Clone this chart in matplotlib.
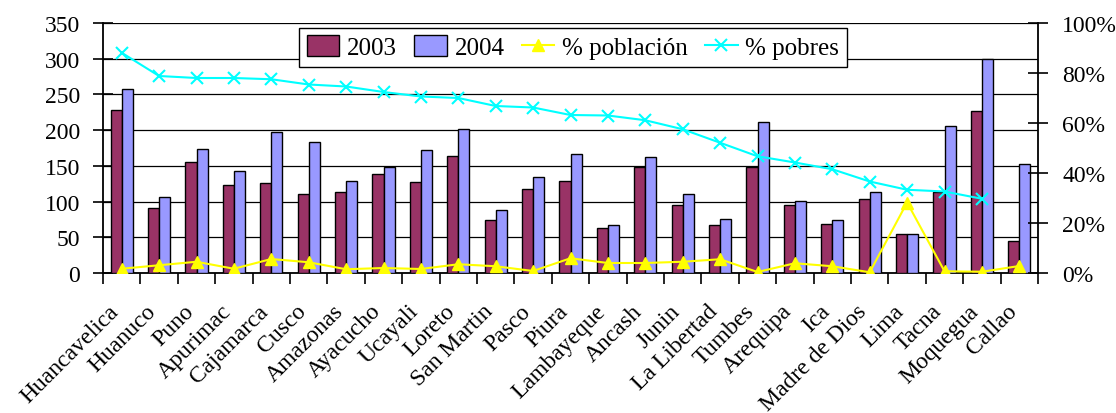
import numpy as np
import matplotlib
matplotlib.use("Agg")
import matplotlib.pyplot as plt
import matplotlib.transforms as mtransforms
from matplotlib.ticker import FuncFormatter, FixedLocator

plt.rcParams['font.family'] = ['Liberation Serif', 'DejaVu Serif']

departamentos = ["Huancavelica", "Huanuco", "Puno", "Apurimac", "Cajamarca", "Cusco",
                 "Amazonas", "Ayacucho", "Ucayali", "Loreto", "San Martin", "Pasco",
                 "Piura", "Lambayeque", "Ancash", "Junin", "La Libertad", "Tumbes",
                 "Arequipa", "Ica", "Madre de Dios", "Lima", "Tacna", "Moquegua", "Callao"]

v2003 = [228, 91, 155, 123, 126, 111, 114, 138, 127, 164, 74, 117, 129, 63, 149,
         95, 67, 148, 95, 68, 104, 55, 114, 227, 45]
v2004 = [257, 107, 174, 143, 198, 183, 129, 148, 172, 202, 88, 135, 166, 67, 162,
         110, 76, 212, 101, 74, 114, 55, 206, 299, 153]

# porcentaje de la población nacional
pct_poblacion = [1.7, 3.1, 4.5, 1.7, 5.6, 4.3, 1.5, 2.0, 1.6, 3.5, 2.7, 0.8, 5.9, 4.0,
                 4.0, 4.5, 5.5, 0.4, 3.9, 2.7, 0.3, 28.2, 0.7, 0.5, 2.8]
# porcentaje de pobres (Callao sin dato)
pct_pobres = [88.1, 78.8, 78.0, 78.0, 77.5, 75.4, 74.6, 72.4, 70.6, 70.0, 66.8, 66.2,
              63.2, 63.0, 61.1, 57.5, 52.1, 46.7, 44.2, 41.5, 36.6, 33.3, 32.6, 29.7, np.nan]

FS = 17
x = np.arange(len(departamentos))
w = 0.295

fig = plt.figure(figsize=(11.16, 4.14), dpi=100)
ax = fig.add_axes([103 / 1116, 140 / 414, 935 / 1116, 250 / 414])

b1 = ax.bar(x - w / 2, v2003, w, color='#993366', edgecolor='black', linewidth=1.0,
            label='2003', zorder=3)
b2 = ax.bar(x + w / 2, v2004, w, color='#9999FF', edgecolor='black', linewidth=1.0,
            label='2004', zorder=3)

ax.set_xlim(-0.5, len(departamentos) - 0.5)
ax.set_ylim(0, 350)
ax.set_yticks(np.arange(0, 351, 50))
ax.yaxis.grid(True, color='black', linewidth=0.9, zorder=0)
ax.set_axisbelow(True)
for s in ['top', 'right']:
    ax.spines[s].set_visible(False)
ax.spines['left'].set_linewidth(1.3)
ax.spines['bottom'].set_linewidth(1.3)
ax.tick_params(axis='y', direction='inout', length=15, width=1.2, pad=9, labelsize=FS)

ax.set_xticks(x)
ax.set_xticklabels(departamentos, rotation=45, ha='right', va='center',
                   rotation_mode='anchor', fontsize=17)
ax.tick_params(axis='x', which='major', length=0, pad=25)
# nombres un poco a la izquierda del centro de cada grupo
shift = mtransforms.ScaledTranslation(-6 / 100, 0, fig.dpi_scale_trans)
for lab in ax.get_xticklabels():
    lab.set_transform(lab.get_transform() + shift)
ax.xaxis.set_minor_locator(FixedLocator(np.arange(-0.5, len(departamentos), 1.0)))
ax.tick_params(axis='x', which='minor', direction='out', length=8, width=1.2)

ax2 = ax.twinx()
ax2.set_ylim(0, 100)
ax2.set_yticks(np.arange(0, 101, 20))
ax2.yaxis.set_major_formatter(FuncFormatter(lambda v, p: f"{v:.0f}%"))
for s in ['top', 'left', 'bottom']:
    ax2.spines[s].set_visible(False)
ax2.spines['right'].set_linewidth(1.3)
ax2.tick_params(axis='y', direction='inout', length=15, width=1.2, pad=10, labelsize=FS)

l1, = ax2.plot(x, pct_poblacion, color='#FFFF00', marker='^', markersize=8,
               linewidth=1.5, label='% población')
l2, = ax2.plot(x, pct_pobres, color='#00FFFF', marker='x', markersize=8,
               markeredgewidth=1.5, linewidth=1.5, label='% pobres')

leg = ax2.legend(handles=[b1, b2, l1, l2], loc='center', ncol=4,
                 bbox_to_anchor=(573 / 1116, 1 - 48 / 414), bbox_transform=fig.transFigure,
                 fontsize=18, frameon=True, fancybox=False, framealpha=1,
                 edgecolor='black', borderpad=0.3, handlelength=1.3, handleheight=0.9,
                 handletextpad=0.3, columnspacing=0.7, borderaxespad=0)
leg.get_frame().set_linewidth(1.0)

fig.savefig("out.png", dpi=100)
